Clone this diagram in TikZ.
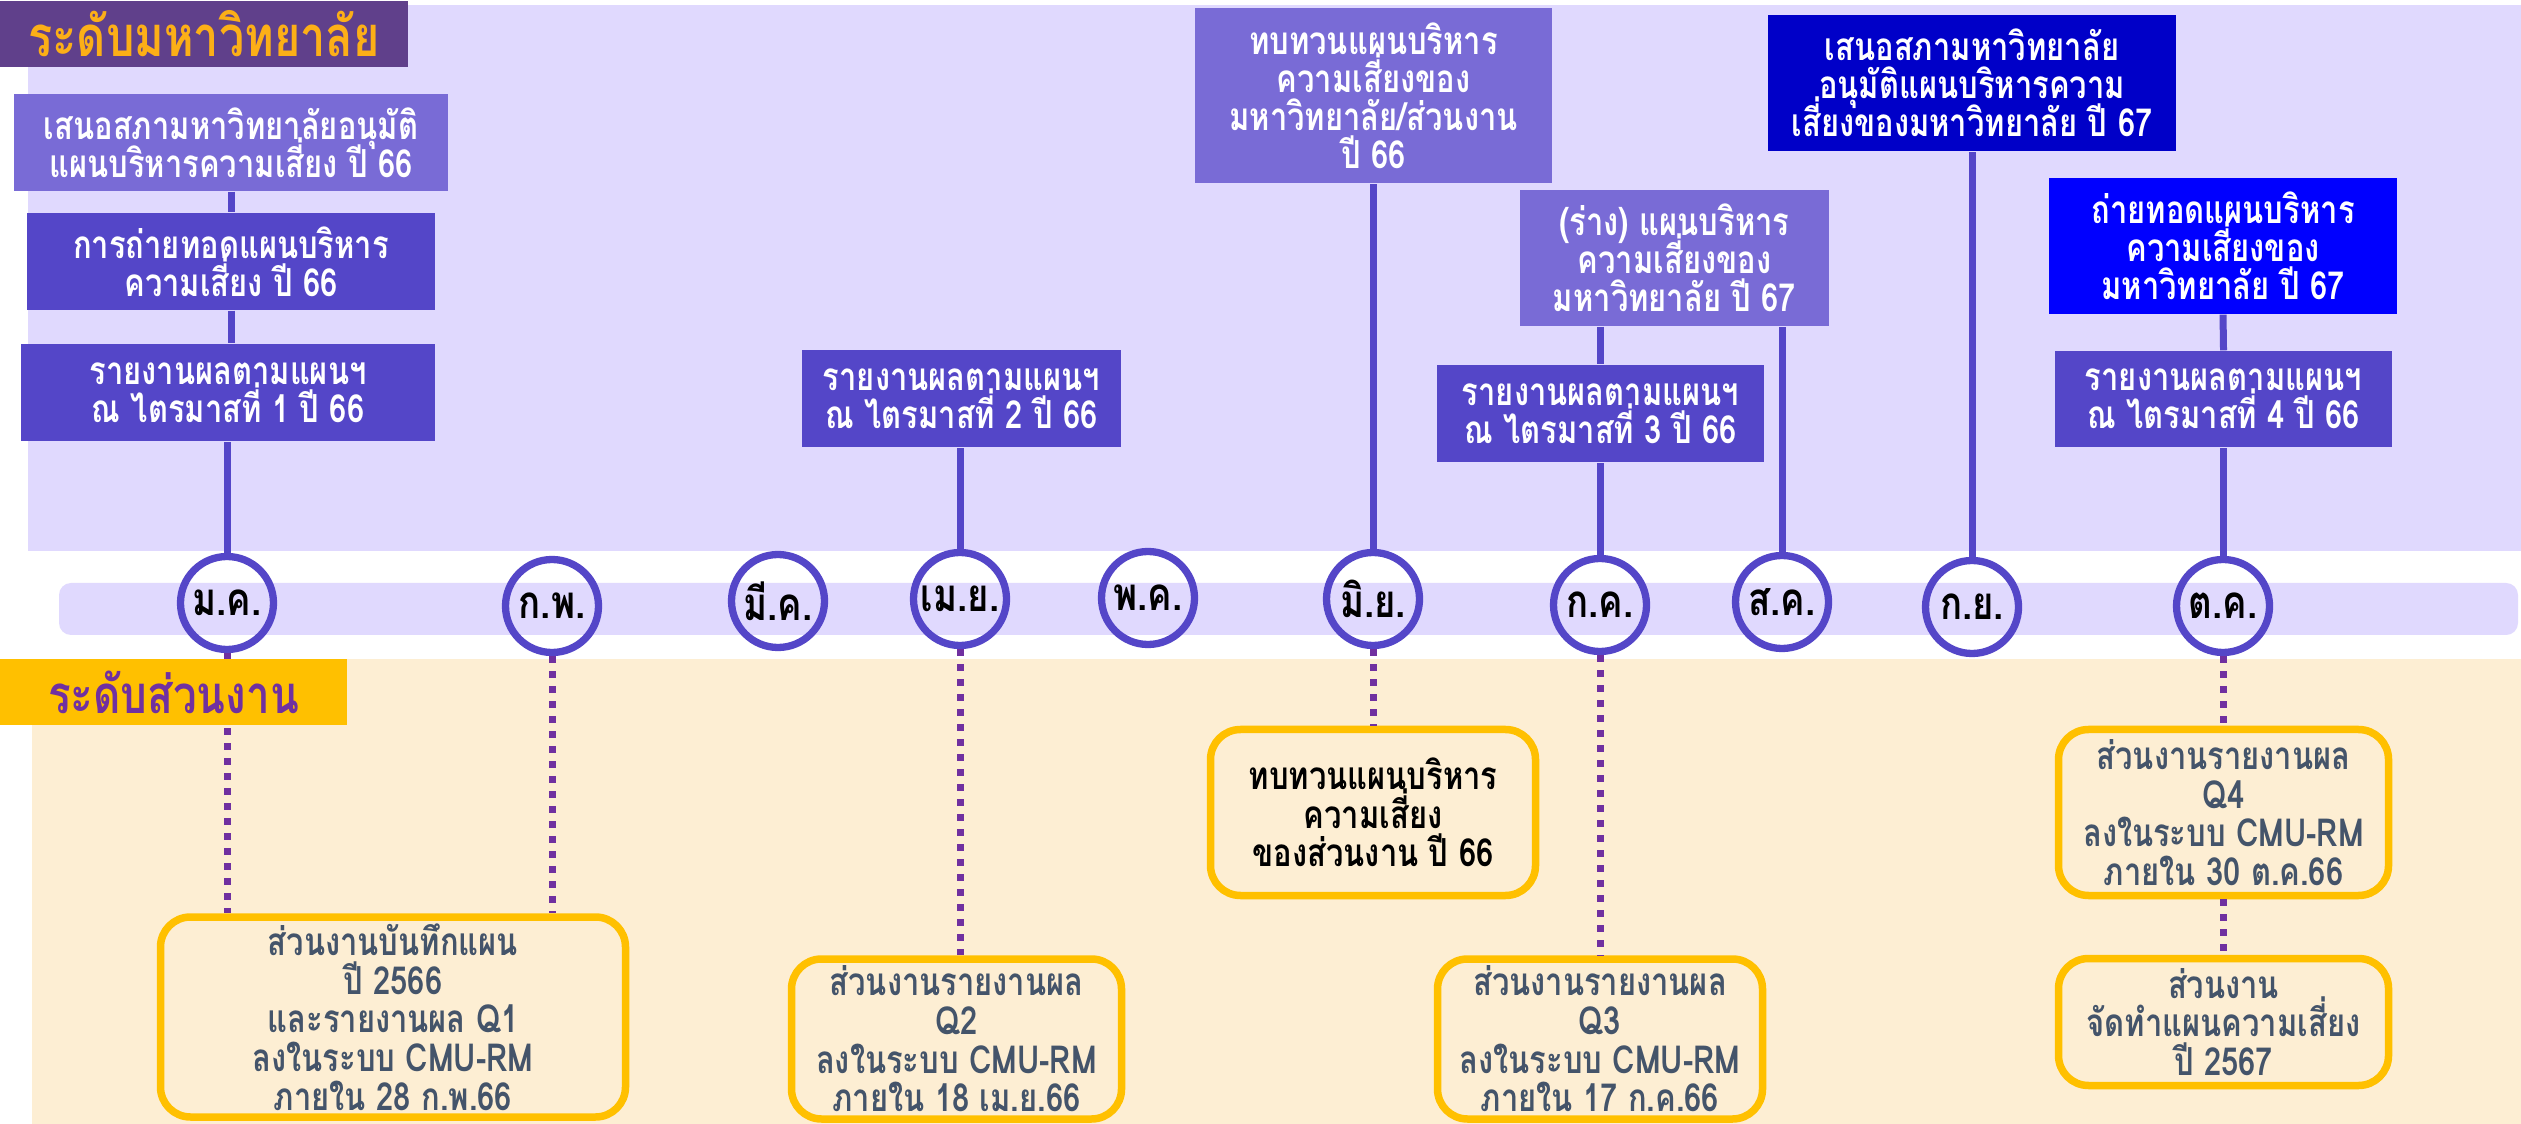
\documentclass[tikz,border=0pt]{standalone}
\usepackage{fontspec}
\setmainfont{Loma}[Script=Thai, FakeStretch=0.8]
\usetikzlibrary{positioning}
\definecolor{titlebg}{RGB}{96,64,139}
\definecolor{titletext}{RGB}{252,175,23}
\definecolor{lavender}{RGB}{224,217,254}
\definecolor{cream}{RGB}{253,238,211}
\definecolor{lightpurple}{RGB}{121,107,214}
\definecolor{midpurple}{RGB}{84,70,200}
\definecolor{darkblue}{RGB}{0,0,200}
\definecolor{brightblue}{RGB}{0,0,255}
\definecolor{amber}{RGB}{255,192,0}
\definecolor{grape}{RGB}{112,48,160}
\definecolor{slate}{RGB}{68,84,106}
\tikzset{
  topbox/.style={inner sep=0pt, align=center, text=white, font=\bfseries\fontsize{11}{10.8}\selectfont, execute at begin node={\lineskiplimit=-20pt}},
  unitbox/.style={draw=amber, line width=0.075cm, rounded corners=0.3cm, fill=cream, inner sep=0pt, align=center, text=slate, font=\bfseries\fontsize{11}{11}\selectfont, execute at begin node={\lineskiplimit=-20pt}},
  monthring/.style={circle, draw=midpurple, line width=0.073cm, minimum size=0.93cm, inner sep=0pt, font=\bfseries\fontsize{13}{13}\selectfont},
  link/.style={draw=midpurple, line width=0.07cm},
  dotlink/.style={draw=grape, line width=0.07cm, dash pattern=on 0.07cm off 0.08cm}
}

\begin{document}
\begin{tikzpicture}
      \useasboundingbox (0,0) rectangle (25.21,-11.24);
      \fill[white] (0,0) rectangle (25.21,-11.24);
      \fill[lavender] (0.28,-0.05) rectangle (25.21,-5.51);
      \fill[cream] (0.32,-6.59) rectangle (25.21,-11.24);
      \fill[lavender, rounded corners=0.12cm] (0.59,-5.83) rectangle (25.18,-6.35);
      \node[fill=titlebg, text=titletext, minimum width=4.08cm, minimum height=0.66cm, inner sep=0pt, font=\bfseries\fontsize{16}{16}\selectfont] (title) at (2.04,-0.34) {ระดับมหาวิทยาลัย};

      \node[monthring] (m1) at (2.27,-6.03) {\makebox[0pt]{ม.ค.}};
      \node[monthring] (m2) at (5.52,-6.06) {\makebox[0pt]{ก.พ.}};
      \node[monthring] (m3) at (7.78,-6.01) {\makebox[0pt]{มี.ค.}};
      \node[monthring] (m4) at (9.60,-5.99) {\makebox[0pt]{เม.ย.}};
      \node[monthring] (m5) at (11.48,-5.98) {\makebox[0pt]{พ.ค.}};
      \node[monthring] (m6) at (13.73,-5.99) {\makebox[0pt]{มิ.ย.}};
      \node[monthring] (m7) at (16.00,-6.05) {\makebox[0pt]{ก.ค.}};
      \node[monthring] (m8) at (17.82,-6.02) {\makebox[0pt]{ส.ค.}};
      \node[monthring] (m9) at (19.72,-6.07) {\makebox[0pt]{ก.ย.}};
      \node[monthring] (m10) at (22.23,-6.06) {\makebox[0pt]{ต.ค.}};

      \node[topbox, fill=lightpurple, minimum width=4.34cm, minimum height=0.97cm] (n1) at (2.31,-1.425) {เสนอสภามหาวิทยาลัยอนุมัติ\\แผนบริหารความเสี่ยง ปี 66};
      \node[topbox, fill=midpurple, minimum width=4.08cm, minimum height=0.97cm] (n2) at (2.31,-2.615) {การถ่ายทอดแผนบริหาร\\ความเสี่ยง ปี 66};
      \node[topbox, fill=midpurple, minimum width=4.14cm, minimum height=0.97cm] (n3) at (2.28,-3.925) {รายงานผลตามแผนฯ\\ณ ไตรมาสที่ 1 ปี 66};
      \node[topbox, fill=midpurple, minimum width=3.19cm, minimum height=0.97cm] (n4) at (9.615,-3.985) {รายงานผลตามแผนฯ\\ณ ไตรมาสที่ 2 ปี 66};
      \node[topbox, fill=lightpurple, minimum width=3.57cm, minimum height=1.75cm] (n5) at (13.735,-0.955) {ทบทวนแผนบริหาร\\ความเสี่ยงของ\\มหาวิทยาลัย/ส่วนงาน\\ปี 66};
      \node[topbox, fill=darkblue, minimum width=4.08cm, minimum height=1.36cm] (n6) at (19.72,-0.83) {เสนอสภามหาวิทยาลัย\\อนุมัติแผนบริหารความ\\เสี่ยงของมหาวิทยาลัย ปี 67};
      \node[topbox, fill=lightpurple, minimum width=3.09cm, minimum height=1.36cm] (n7) at (16.745,-2.58) {(ร่าง) แผนบริหาร\\ความเสี่ยงของ\\มหาวิทยาลัย ปี 67};
      \node[topbox, fill=midpurple, minimum width=3.27cm, minimum height=0.97cm] (n8) at (16.005,-4.135) {รายงานผลตามแผนฯ\\ณ ไตรมาสที่ 3 ปี 66};
      \node[topbox, fill=brightblue, minimum width=3.48cm, minimum height=1.36cm] (n9) at (22.23,-2.46) {ถ่ายทอดแผนบริหาร\\ความเสี่ยงของ\\มหาวิทยาลัย ปี 67};
      \node[topbox, fill=midpurple, minimum width=3.37cm, minimum height=0.96cm] (n10) at (22.235,-3.99) {รายงานผลตามแผนฯ\\ณ ไตรมาสที่ 4 ปี 66};

      \node[unitbox, minimum width=4.65cm, minimum height=2.0cm] (u1) at (3.93,-10.17) {ส่วนงานบันทึกแผน\\ปี 2566\\และรายงานผล Q1\\ลงในระบบ CMU-RM\\ภายใน 28 ก.พ.66};
      \node[unitbox, minimum width=3.3cm, minimum height=1.6cm] (u2) at (9.565,-10.39) {ส่วนงานรายงานผล\\Q2\\ลงในระบบ CMU-RM\\ภายใน 18 เม.ย.66};
      \node[unitbox, text=black, minimum width=3.25cm, minimum height=1.66cm] (u3) at (13.73,-8.125) {ทบทวนแผนบริหาร\\ความเสี่ยง\\ของส่วนงาน ปี 66};
      \node[unitbox, minimum width=3.25cm, minimum height=1.6cm] (u4) at (16.0,-10.39) {ส่วนงานรายงานผล\\Q3\\ลงในระบบ CMU-RM\\ภายใน 17 ก.ค.66};
      \node[unitbox, minimum width=3.3cm, minimum height=1.66cm] (u5) at (22.235,-8.125) {ส่วนงานรายงานผล\\Q4\\ลงในระบบ CMU-RM\\ภายใน 30 ต.ค.66};
      \node[unitbox, minimum width=3.3cm, minimum height=1.27cm] (u6) at (22.235,-10.22) {ส่วนงาน\\จัดทำแผนความเสี่ยง\\ปี 2567};

      \draw[link] (n1.south) -- (n2.north);
      \draw[link] (n2.south) -- (n2.south |- n3.north);
      \draw[link] (m1.north) -- (m1 |- n3.south);
      \draw[link] (m4.north) -- (m4 |- n4.south);
      \draw[link] (m6.north) -- (m6 |- n5.south);
      \draw[link] (m7 |- n7.south) -- (m7 |- n8.north);
      \draw[link] (m7.north) -- (m7 |- n8.south);
      \draw[link] (m8.north) -- (m8 |- n7.south);
      \draw[link] (m9.north) -- (m9 |- n6.south);
      \draw[link] (n9.south) -- (n10.north);
      \draw[link] (m10.north) -- (m10 |- n10.south);

      \draw[dotlink] (m1.south) -- (m1 |- u1.north);
      \draw[dotlink] (m2.south) -- (m2 |- u1.north);
      \draw[dotlink] (m4.south) -- (m4 |- u2.north);
      \draw[dotlink] (m6.south) -- (m6 |- u3.north);
      \draw[dotlink] (m7.south) -- (m7 |- u4.north);
      \draw[dotlink] (m10.south) -- (m10 |- u5.north);
      \draw[dotlink] (u5.south) -- (u6.north);

      \node[fill=amber, text=grape, minimum width=3.47cm, minimum height=0.66cm, inner sep=0pt, font=\bfseries\fontsize{15}{15}\selectfont] (unitlabel) at (1.735,-6.92) {ระดับส่วนงาน};
    \end{tikzpicture}
\end{document}
